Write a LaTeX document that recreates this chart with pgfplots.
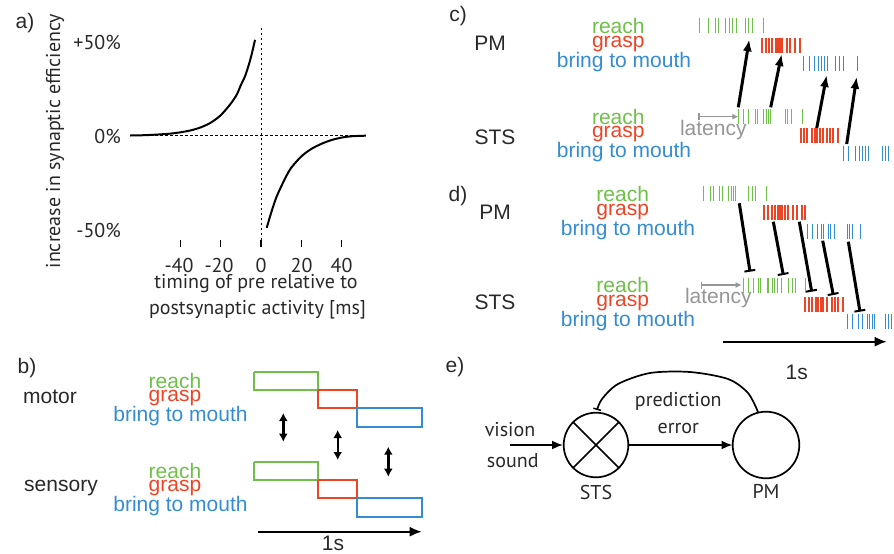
\documentclass[border=0pt]{standalone}
\usepackage{pgfplots}
\pgfplotsset{compat=1.18}
\usetikzlibrary{arrows.meta}
\usepackage{fontspec}
\setmainfont{Liberation Sans}
\newfontfamily\ptsans{PT Sans}
\definecolor{cgreen}{RGB}{110,192,72}
\definecolor{cred}{RGB}{238,68,38}
\definecolor{cblue}{RGB}{52,140,210}
\definecolor{cgray}{RGB}{150,150,150}
\definecolor{ctext}{RGB}{40,40,40}
\newcommand\fa{\fontsize{21pt}{21pt}\selectfont}
\newcommand\fp{\ptsans\fontsize{20pt}{20pt}\selectfont}
\tikzset{lbl/.style={inner sep=0pt, font=\fa, text=ctext},
         plbl/.style={inner sep=0pt, font=\fp, text=ctext}}
\pgfplotsset{spike/.style={only marks, mark=|, mark size=7.5pt, line width=1pt},
  upar/.style={black, line width=3pt, -{Latex[length=12pt,width=9pt]}},
  inh/.style={black, line width=3pt, -{Bar[width=11pt,line width=2pt]}},
  lat/.style={cgray, line width=1.4pt, {Bar[width=7pt]}-{Latex[length=6pt,width=6pt]}},
  tarr/.style={black, line width=1.8pt, -{Latex[length=12pt,width=10pt]}},
  dbl/.style={black, line width=2.4pt, {Latex[length=8pt,width=9pt]}-{Latex[length=8pt,width=9pt]}},
  box/.style={line width=2pt}}
\begin{document}
\begin{tikzpicture}
% ---------------- canvas in pixel units ----------------
\begin{axis}[name=canvas, at={(0pt,0pt)}, anchor=south west, scale only axis,
  width=894pt, height=554pt, xmin=0, xmax=894, ymin=0, ymax=554,
  y dir=reverse, hide axis, clip=false]
\addplot[draw=none, forget plot] coordinates {(0,0) (894,554)};

% ----- panel a texts -----
\node[lbl] at (axis cs:25,23) {a)};
\node[plbl, rotate=90] at (axis cs:55,141) {increase in synaptic efficiency};
\node[plbl, anchor=east] at (axis cs:121,42) {+50\%};
\node[plbl, anchor=east] at (axis cs:121,136) {0\%};
\node[plbl, anchor=east] at (axis cs:121,230) {-50\%};
\node[plbl] at (axis cs:179,265) {-40};
\node[plbl] at (axis cs:219,265) {-20};
\node[plbl] at (axis cs:261,265) {0};
\node[plbl] at (axis cs:301.5,265) {20};
\node[plbl] at (axis cs:341.5,265) {40};
\node[plbl] at (axis cs:256,284) {timing of pre relative to};
\node[plbl] at (axis cs:257.5,310) {postsynaptic activity [ms]};

% ----- panel b -----
\node[lbl] at (axis cs:27,368) {b)};
\node[lbl] at (axis cs:50,397) {motor};
\node[lbl] at (axis cs:61,488) {sensory};
\node[lbl, text=cgreen] at (axis cs:175,381) {reach};
\node[lbl, text=cred] at (axis cs:175,398.5) {grasp};
\node[lbl, text=cblue] at (axis cs:180.5,416) {bring to mouth};
\node[lbl, text=cgreen] at (axis cs:175,471) {reach};
\node[lbl, text=cred] at (axis cs:175,488.5) {grasp};
\node[lbl, text=cblue] at (axis cs:180.5,506) {bring to mouth};
\addplot[box, cgreen] coordinates {(254,371.7) (318.3,371.7) (318.3,390) (254,390) (254,371.7)};
\addplot[box, cred] coordinates {(318.3,390) (356.7,390) (356.7,408.3) (318.3,408.3) (318.3,390)};
\addplot[box, cblue] coordinates {(356.7,408.3) (421.7,408.3) (421.7,426.7) (356.7,426.7) (356.7,408.3)};
\addplot[box, cgreen] coordinates {(254,461.7) (318.3,461.7) (318.3,480) (254,480) (254,461.7)};
\addplot[box, cred] coordinates {(318.3,480) (356.7,480) (356.7,498.3) (318.3,498.3) (318.3,480)};
\addplot[box, cblue] coordinates {(356.7,498.3) (421.7,498.3) (421.7,516.7) (356.7,516.7) (356.7,498.3)};
\addplot[dbl] coordinates {(283.3,413) (283.3,441.7)};
\addplot[dbl] coordinates {(337.7,430) (337.7,460)};
\addplot[dbl] coordinates {(388.3,446.7) (388.3,476.7)};
\addplot[tarr] coordinates {(258.3,531.7) (421.7,531.7)};
\node[lbl] at (axis cs:333,543) {1s};

% ----- panel c -----
\node[lbl] at (axis cs:458,16) {c)};
\node[lbl] at (axis cs:490,43) {PM};
\node[lbl] at (axis cs:495,137) {STS};
\node[lbl, text=cgreen] at (axis cs:618.3,26) {reach};
\node[lbl, text=cred] at (axis cs:618.3,44.5) {grasp};
\node[lbl, text=cblue] at (axis cs:624,62.5) {bring to mouth};
\node[lbl, text=cgreen] at (axis cs:618.3,116.5) {reach};
\node[lbl, text=cred] at (axis cs:618.3,134.5) {grasp};
\node[lbl, text=cblue] at (axis cs:624,152.5) {bring to mouth};
\addplot[spike, cgreen] coordinates {(699,25.8) (708,25.8) (715,25.8) (718,25.8) (725,25.8) (729,25.8) (732,25.8) (736,25.8) (745,25.8) (748,25.8) (752,25.8) (763,25.8)};
\addplot[spike, cred, line width=1.9pt] coordinates {(762,45.8) (766,45.8) (769,45.8) (772,45.8) (776,45.8) (778,45.8) (780,45.8) (782,45.8) (787,45.8) (790,45.8) (795,45.8) (800,45.8)};
\addplot[spike, cblue] coordinates {(803,63.5) (809,63.5) (814,63.5) (818,63.5) (821,63.5) (824,63.5) (827,63.5) (835,63.5) (839,63.5) (843,63.5) (857,63.5)};
\addplot[spike, cgreen] coordinates {(738,116.5) (743,116.5) (748,116.5) (755,116.5) (757,116.5) (763,116.5) (766,116.5) (768,116.5) (770,116.5) (785,116.5) (787,116.5) (791,116.5) (802,116.5)};
\addplot[spike, cred, line width=1.9pt] coordinates {(801,135.3) (804,135.3) (807,135.3) (812,135.3) (815,135.3) (817,135.3) (820,135.3) (823,135.3) (827,135.3) (830,135.3) (833,135.3) (838,135.3)};
\addplot[spike, cblue] coordinates {(843,153.2) (848,153.2) (855,153.2) (859,153.2) (862,153.2) (865,153.2) (868,153.2) (882,153.2) (885,153.2) (888,153.2)};
\addplot[lat] coordinates {(698.3,116.7) (738.3,116.7)};
\node[lbl, text=cgray] at (axis cs:713.3,130) {latency};
\addplot[upar] coordinates {(738.3,107.3) (749.3,39.3)};
\addplot[upar] coordinates {(770.7,107.3) (781.7,54)};
\addplot[upar] coordinates {(816.7,128.3) (826.7,75)};
\addplot[upar] coordinates {(846.7,144) (856.7,76.7)};

% ----- panel d -----
\node[lbl] at (axis cs:458,196) {d)};
\node[lbl] at (axis cs:495,212) {PM};
\node[lbl] at (axis cs:495,302) {STS};
\node[lbl, text=cgreen] at (axis cs:622.7,194) {reach};
\node[lbl, text=cred] at (axis cs:622.7,212.3) {grasp};
\node[lbl, text=cblue] at (axis cs:628,230) {bring to mouth};
\node[lbl, text=cgreen] at (axis cs:622.7,285) {reach};
\node[lbl, text=cred] at (axis cs:622.7,302.7) {grasp};
\node[lbl, text=cblue] at (axis cs:628,320.7) {bring to mouth};
\addplot[spike, cgreen] coordinates {(703,193.8) (710,193.8) (713,193.8) (719,193.8) (722,193.8) (728,193.8) (731,193.8) (733,193.8) (735,193.8) (748,193.8) (752,193.8) (755,193.8) (766,193.8)};
\addplot[spike, cred, line width=1.9pt] coordinates {(764,212.5) (768,212.5) (772,212.5) (775,212.5) (778,212.5) (780,212.5) (782,212.5) (785,212.5) (788,212.5) (793,212.5) (797,212.5) (802,212.5) (805,212.5)};
\addplot[spike, cblue] coordinates {(807,231) (812,231) (817,231) (821,231) (823,231) (828,231) (830,231) (834,231) (847,231) (849,231) (852,231) (860,231)};
\addplot[spike, cgreen] coordinates {(743,285) (748,285) (753,285) (758,285) (760,285) (767,285) (768,285) (772,285) (774,285) (777,285) (781,285) (788,285) (792,285) (795,285) (805,285)};
\addplot[spike, cred, line width=1.9pt] coordinates {(805,304.3) (809,304.3) (812,304.3) (816,304.3) (818,304.3) (821,304.3) (823,304.3) (827,304.3) (832,304.3) (835,304.3) (838,304.3) (843,304.3)};
\addplot[spike, cblue] coordinates {(847,321.5) (852,321.5) (858,321.5) (862,321.5) (867,321.5) (869,321.5) (872,321.5) (874,321.5) (885,321.5) (888,321.5) (891,321.5)};
\addplot[lat] coordinates {(700.7,285) (741.7,285)};
\node[lbl, text=cgray] at (axis cs:718.3,297.7) {latency};
\addplot[inh] coordinates {(739.3,203.3) (750,271.7)};
\addplot[inh] coordinates {(773.3,221.7) (783.3,275)};
\addplot[inh] coordinates {(799.3,221.7) (811.7,291.7)};
\addplot[inh] coordinates {(822.7,240.7) (833.3,295)};
\addplot[inh] coordinates {(848.3,241.7) (860,311.7)};
\addplot[tarr] coordinates {(723.3,341.7) (886.7,341.7)};
\node[lbl] at (axis cs:796.7,372.7) {1s};

% ----- panel e -----
\node[lbl] at (axis cs:455,367) {e)};
\addplot[only marks, mark=otimes, mark size=32.3pt, line width=1.7pt, black] coordinates {(596,445)};
\addplot[only marks, mark=o, mark size=33.3pt, line width=1.7pt, black] coordinates {(766,445)};
\addplot[black, line width=1.7pt, -{Latex[length=11pt,width=9pt]}] coordinates {(510,445) (563,445)};
\addplot[black, line width=1.7pt, -{Latex[length=11pt,width=9pt]}] coordinates {(629,445) (732.5,445)};
\addplot[black, line width=1.7pt, smooth, -{Bar[width=8pt,line width=1.5pt]}] coordinates {(758,412) (748,393) (728,379) (690,372) (650,373) (618,384) (602,399) (597,410)};
\node[plbl] at (axis cs:510,430) {vision};
\node[plbl] at (axis cs:512.7,461) {sound};
\node[plbl] at (axis cs:678.3,401.7) {prediction};
\node[plbl] at (axis cs:678.3,428.3) {error};
\node[plbl] at (axis cs:596,492.7) {STS};
\node[plbl] at (axis cs:766,491) {PM};
\end{axis}

% ---------------- panel a: STDP curve ----------------
\begin{axis}[at={(120pt,305.5pt)}, anchor=south west, scale only axis,
  width=251.9pt, height=225.6pt, xmin=-70, xmax=55, ymin=-60, ymax=60,
  hide axis, clip=false]
\addplot[black, line width=1pt, dash pattern=on 2.5pt off 2.5pt] coordinates {(-65,0) (52,0)};
\addplot[black, line width=1pt, dash pattern=on 2.5pt off 2.5pt] coordinates {(0,-55.5) (0,57.3)};
\addplot[black, line width=2pt, smooth] coordinates {(-65,0.1) (-60,0.2) (-55,0.4) (-50,0.7) (-45,1.1) (-40,1.8) (-35,2.8) (-30,4.4) (-25,6.9) (-20,10.9) (-15,17.1) (-12,22) (-10,27) (-8,31.5) (-6,38) (-4.5,44) (-3,51)};
\addplot[black, line width=2pt, smooth] coordinates {(2.8,-49) (5,-41) (7.5,-33) (10,-27) (12.5,-21.5) (15,-17) (20,-11) (25,-7) (30,-4.3) (35,-2.3) (40,-1) (45,-0.3) (52,0)};
\addplot[only marks, mark=|, mark size=3.5pt, line width=1.2pt, black] coordinates {(-40,-57.3) (-20,-57.3) (0,-57.3) (20,-57.3) (40,-57.3)};
\end{axis}
\end{tikzpicture}
\end{document}
